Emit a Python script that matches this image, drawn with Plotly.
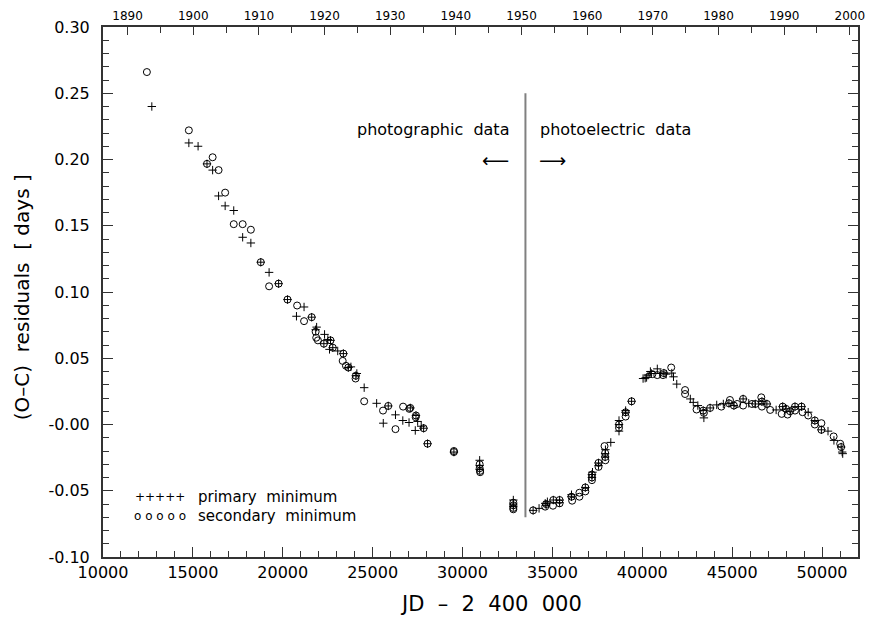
import plotly.graph_objects as go

# ---------------- data (JD - 2400000, O-C residual in days) ----------------
prim_jd = [12716, 14776, 15289, 15785, 16099, 16430, 16795, 17273, 17769, 18226,
           18777, 19240, 19769, 20265, 21185, 20762, 21608, 21884, 21830, 22287,
           22325, 22507, 22655, 22600, 22782, 23058, 23372, 23648, 23791, 24121,
           24066, 24529, 25223, 25868, 25592, 26270, 26678, 27025, 27096, 27410,
           27504, 27372, 27702, 27835, 28055, 29521, 30953, 30953, 30953, 32826,
           32826, 32826, 33928, 34258, 34600, 34650, 34721, 35052, 35399, 35399,
           36061, 36061, 36832, 37200, 37200, 37230, 37566, 37566, 37934, 37934,
           37950, 38248, 38705, 38705, 38705, 39074, 39074, 39405, 40044, 40160,
           40240, 40320, 40450, 40506, 40836, 41000, 41200, 41330, 41642, 41736,
           41917, 42672, 42837, 43090, 43388, 43427, 43774, 44141, 44508, 44821,
           45096, 45609, 45923, 46290, 46655, 46931, 47446, 47810, 47994, 48220,
           48496, 48860, 49229, 49598, 49964, 50331, 50661, 51064, 51119, 51150]
prim_oc = [0.240, 0.2125, 0.210, 0.1967, 0.192, 0.1725, 0.165, 0.1615, 0.1413, 0.137,
           0.1225, 0.1148, 0.1063, 0.0943, 0.0887, 0.0817, 0.081, 0.0735, 0.0715, 0.061,
           0.068, 0.0642, 0.0635, 0.0567, 0.058, 0.0555, 0.0535, 0.043, 0.0435, 0.0385,
           0.0368, 0.0278, 0.016, 0.014, 0.001, 0.0073, 0.003, 0.0015, 0.0125, 0.0068,
           0.0023, -0.0045, -0.0013, -0.0028, -0.0145, -0.0208, -0.027, -0.031, -0.034, -0.057,
           -0.060, -0.062, -0.0648, -0.0633, -0.0595, -0.061, -0.0583, -0.057, -0.057, -0.059,
           -0.0545, -0.053, -0.0475, -0.0378, -0.040, -0.036, -0.029, -0.031, -0.0245, -0.022,
           -0.019, -0.0135, 0.000, -0.005, 0.003, 0.0092, 0.0105, 0.0175, 0.0347, 0.035,
           0.0355, 0.0373, 0.040, 0.0385, 0.042, 0.0385, 0.0388, 0.038, 0.0388, 0.036,
           0.0305, 0.0193, 0.0167, 0.0143, 0.0105, 0.005, 0.0125, 0.0148, 0.0155, 0.016,
           0.0143, 0.0193, 0.016, 0.0155, 0.0173, 0.0155, 0.011, 0.0135, 0.0118, 0.010,
           0.0135, 0.0135, 0.0093, 0.003, -0.004, -0.005, -0.012, -0.017, -0.0208, -0.022]

sec_jd = [12441, 14776, 15785, 16099, 16430, 16795, 17273, 17769, 18226, 18777,
          19240, 19769, 20265, 20799, 21185, 21608, 21829, 21862, 21956, 22287,
          22655, 22782, 23372, 23333, 23516, 23648, 24066, 24050, 24529, 25576,
          25868, 26694, 27041, 27096, 27410, 27394, 26270, 27835, 28055, 29521,
          29521, 30953, 30953, 30980, 30980, 32826, 32826, 32826, 32826, 33928,
          34600, 34650, 35052, 35031, 35399, 35399, 36061, 36098, 36502, 36502,
          36832, 36832, 37200, 37200, 37200, 37566, 37566, 37898, 37934, 37950,
          37934, 38705, 38705, 39074, 39074, 39405, 40561, 40836, 41150, 41200,
          41609, 42380, 42380, 43019, 43388, 43427, 43774, 44398, 44821, 44876,
          45096, 45280, 45609, 45609, 46105, 46290, 46620, 46655, 46655, 46931,
          47115, 47755, 47810, 47994, 48083, 48220, 48496, 48496, 48860, 48915,
          49229, 49598, 49598, 49964, 49964, 50645, 51009, 51064]
sec_oc = [0.266, 0.222, 0.1967, 0.2017, 0.192, 0.175, 0.1512, 0.1512, 0.147, 0.1225,
          0.1043, 0.1063, 0.0943, 0.0898, 0.078, 0.081, 0.070, 0.0655, 0.0635, 0.061,
          0.0635, 0.058, 0.0535, 0.048, 0.0443, 0.043, 0.0368, 0.0347, 0.0175, 0.0105,
          0.014, 0.0135, 0.0118, 0.0125, 0.0068, 0.0055, -0.0035, -0.0028, -0.0145, -0.0208,
          -0.020, -0.030, -0.033, -0.035, -0.036, -0.059, -0.061, -0.063, -0.064, -0.0648,
          -0.062, -0.060, -0.057, -0.0613, -0.057, -0.0595, -0.0545, -0.0575, -0.0515, -0.0545,
          -0.0475, -0.0505, -0.0378, -0.042, -0.040, -0.029, -0.032, -0.0163, -0.0215, -0.027,
          -0.0245, 0.000, -0.0025, 0.0092, 0.006, 0.0175, 0.038, 0.0373, 0.0373, 0.0388,
          0.043, 0.026, 0.023, 0.0113, 0.0105, 0.0088, 0.0125, 0.0135, 0.016, 0.0185,
          0.0143, 0.0155, 0.0193, 0.0143, 0.0155, 0.0155, 0.0205, 0.0173, 0.0135, 0.0155,
          0.011, 0.008, 0.0135, 0.0118, 0.0075, 0.010, 0.0135, 0.0105, 0.0135, 0.0093,
          0.0068, 0.003, 0.000, 0.001, -0.004, -0.009, -0.0145, -0.017]

divider_jd = 33500          # start of photoelectric data
divider_oc = [-0.07, 0.25]  # extent of divider line

y_tickvals = [-0.10, -0.05, 0.0, 0.05, 0.10, 0.15, 0.20, 0.25, 0.30]
y_ticktext = ["-0.10", "-0.05", "-0.00", "0.05", "0.10", "0.15", "0.20", "0.25", "0.30"]

year_major = list(range(1890, 2001, 10))
year_minor = list(range(1895, 2000, 10))


def year_to_jd(y):
    return 2415020.0 + (y - 1900) * 365.25 - 2400000


FONT = "DejaVu Sans"
AX = "#333333"
NB = "\u00a0"

fig = go.Figure()
fig.add_trace(go.Scatter(
    x=prim_jd, y=prim_oc, mode="markers", name="primary minimum",
    marker=dict(symbol="cross-thin", size=6, line=dict(color="black", width=1))))
fig.add_trace(go.Scatter(
    x=sec_jd, y=sec_oc, mode="markers", name="secondary minimum",
    marker=dict(symbol="circle-open", size=7, color="black", line=dict(width=1))))
# invisible trace to activate top axis
fig.add_trace(go.Scatter(x=[10000], y=[0], xaxis="x2", mode="markers",
                         marker=dict(opacity=0), showlegend=False, hoverinfo="skip"))

fig.add_shape(type="line", x0=divider_jd, x1=divider_jd, y0=divider_oc[0], y1=divider_oc[1],
              xref="x", yref="y", line=dict(color="#808080", width=2))

fig.update_layout(
    width=874, height=617,
    margin=dict(l=103, r=9, t=24, b=60),
    paper_bgcolor="white", plot_bgcolor="white",
    showlegend=False,
    font=dict(family=FONT, color="black"),
    xaxis=dict(range=[10000, 52000], showgrid=False, zeroline=False,
               showline=True, linecolor=AX, linewidth=2,
               tickmode="linear", tick0=10000, dtick=5000, tickformat="d",
               ticks="inside", ticklen=10, tickwidth=1, tickcolor=AX,
               tickfont=dict(size=16, family=FONT, color="black"),
               minor=dict(dtick=1000, tick0=10000, ticks="inside", ticklen=6, tickcolor=AX, tickwidth=1),
               mirror=False),
    xaxis2=dict(range=[10000, 52000], overlaying="x", side="top", showgrid=False, zeroline=False,
                showline=True, linecolor=AX, linewidth=2,
                tickmode="array", tickvals=[year_to_jd(y) for y in year_major],
                ticktext=[str(y) for y in year_major],
                ticks="inside", ticklen=8, tickwidth=1, tickcolor=AX,
                tickfont=dict(size=12, family=FONT, color="black"),
                minor=dict(tickmode="array", tickvals=[year_to_jd(y) for y in year_minor],
                           ticks="inside", ticklen=6, tickcolor=AX, tickwidth=1)),
    yaxis=dict(range=[-0.10, 0.30], showgrid=False, zeroline=False,
               showline=True, linecolor=AX, linewidth=2, mirror="ticks",
               tickmode="array", tickvals=y_tickvals, ticktext=y_ticktext,
               ticks="inside", ticklen=10, tickwidth=1, tickcolor=AX,
               tickfont=dict(size=16, family=FONT, color="black"), ticklabelstandoff=8,
               minor=dict(dtick=0.01, tick0=0, ticks="inside", ticklen=6, tickcolor=AX, tickwidth=1)),
)


def txt(text, x, y, size, xanchor="center", angle=0):
    return dict(text=text, xref="paper", yref="paper", x=x, y=y, xanchor=xanchor,
                yanchor="middle", showarrow=False, textangle=angle,
                font=dict(size=size, family=FONT, color="black"))


ann = [
    # axis titles
    txt(f"JD{NB}{NB}–{NB}{NB}2{NB}{NB}400{NB}{NB}000", 0.5144, -0.0882, 21),
    txt(f"(O–C){NB}{NB}residuals{NB}{NB}[{NB}days{NB}]", -0.1063, 0.4897, 20, angle=-90),
    # divider labels
    txt(f"photographic{NB}{NB}data", 0.4377, 0.8068, 16),
    txt(f"photoelectric{NB}{NB}data", 0.6785, 0.8068, 16),
    txt("⟵", 0.5197, 0.7486, 19),
    txt("⟶", 0.5958, 0.7486, 19),
    # legend
    txt("+++++", 0.0755, 0.1125, 12),
    txt(f"o{NB}o{NB}o{NB}o{NB}o", 0.0755, 0.0775, 12),
    txt(f"primary{NB}{NB}minimum", 0.1234, 0.1125, 15, xanchor="left"),
    txt(f"secondary{NB}{NB}minimum", 0.1234, 0.0775, 15, xanchor="left"),
]
fig.update_layout(annotations=ann)

fig.write_html("out.html")
